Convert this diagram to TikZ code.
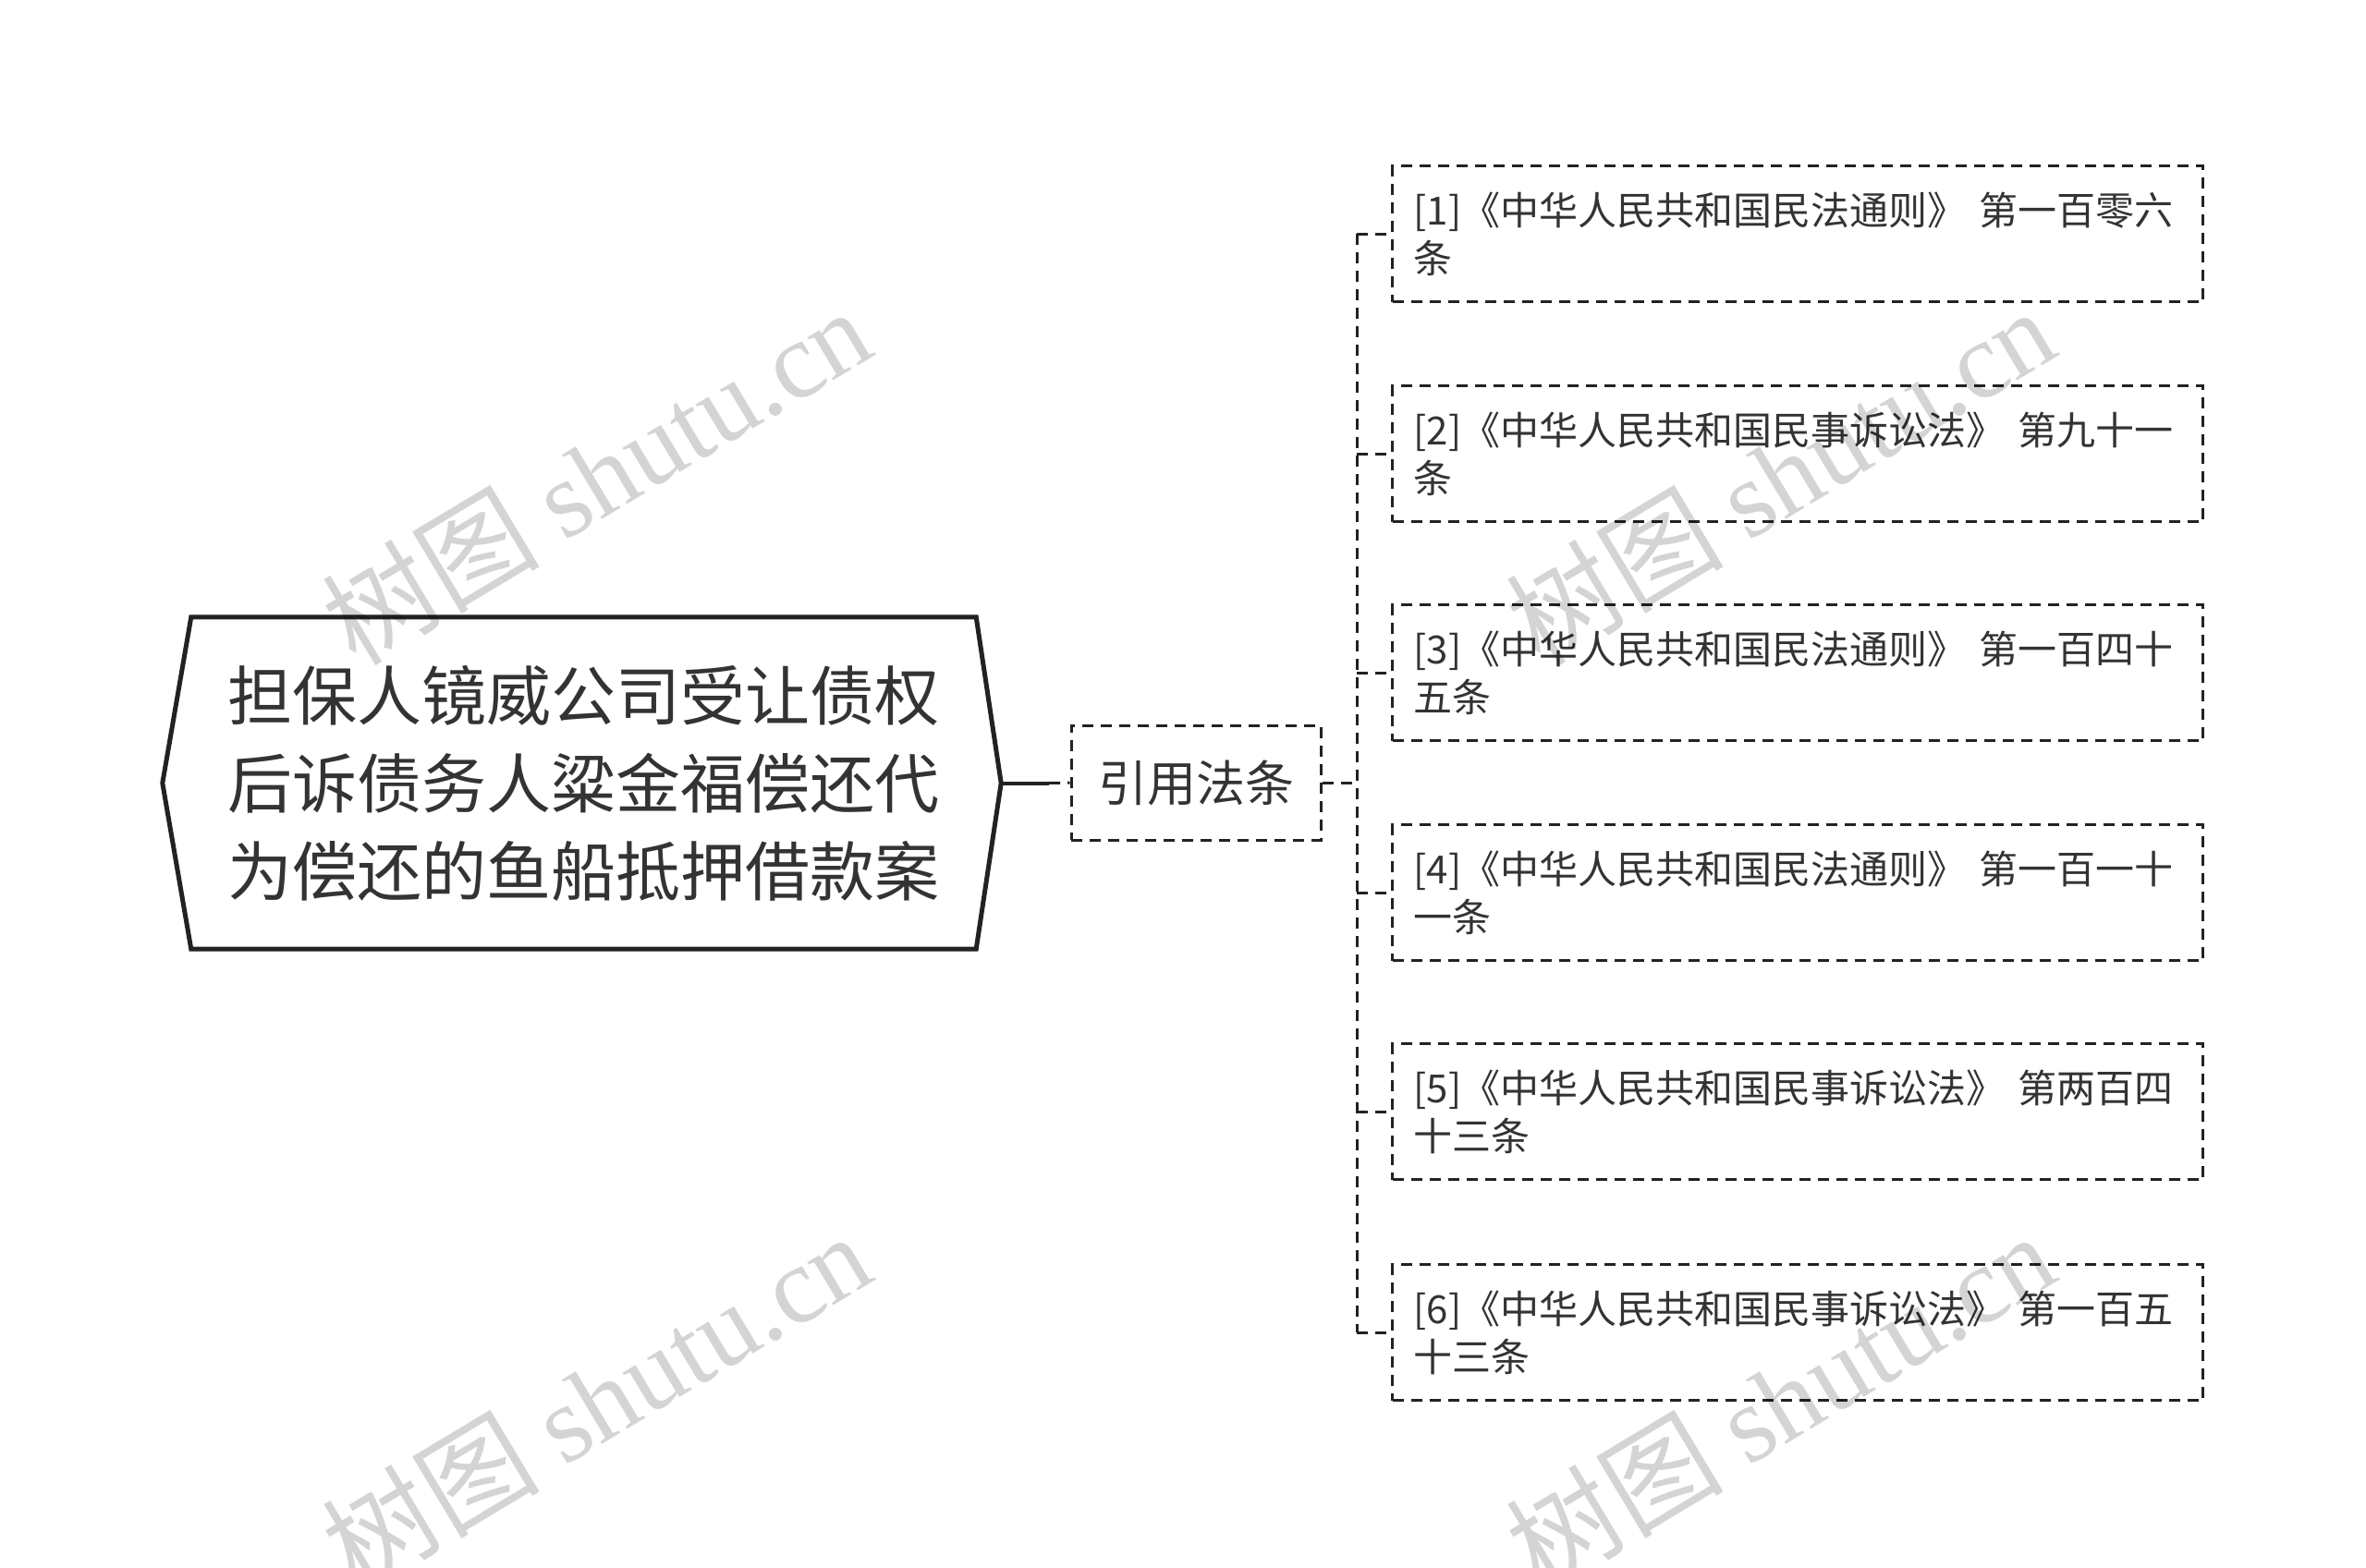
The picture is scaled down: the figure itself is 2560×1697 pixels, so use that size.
\documentclass[tikz,border=0pt]{standalone}
\usepackage{fontspec}
\setmainfont{Noto Sans CJK SC}
\newfontfamily\wmserif{Liberation Serif}
\usetikzlibrary{calc}
\definecolor{txt}{HTML}{333333}
\definecolor{ln}{HTML}{222222}
\begin{document}
\begin{tikzpicture}[x=1pt,y=-1pt,
  dsh/.style={draw=ln, line width=3pt, dash pattern=on 12pt off 8pt},
  lawbox/.style={dsh, rectangle, minimum width=877pt, minimum height=147pt, text width=831pt, inner xsep=23pt, inner ysep=0pt, align=left, anchor=west, font=\fontsize{42}{52}\selectfont, text=txt},
  wm/.style={rotate=31, text=black, opacity=0.17, font=\fontsize{118}{118}\selectfont}
]
\useasboundingbox (0,0) rectangle (2560,1697);

% main topic
\node[rectangle, minimum width=849pt, minimum height=359pt, inner sep=0pt, align=center, text=txt, font=\fontsize{70}{95}\selectfont] (main) at (631.5,847.5) {担保人镜威公司受让债权\\后诉债务人粱金福偿还代\\为偿还的鱼船抵押借款案};
\draw[line width=5pt, draw=ln, line join=miter] (main.north west) -- (main.north east) -- ($(main.east)+(27,0)$) coordinate (mainR) -- (main.south east) -- (main.south west) -- ($(main.west)+(-31,0)$) -- cycle;

% sub topic
\node[dsh, rectangle, minimum width=270pt, minimum height=124pt, inner sep=0pt, text=txt, font=\fontsize{53}{53}\selectfont] (law) at (1294,847) {引用法条};

\draw[line width=4pt, draw=ln] (mainR) -- ++(52,0) coordinate (m1);
\draw[dsh] (m1) -- (law.west);

% children
\node[lawbox] (c1) at (1505,253) {\mbox{[1]《中华人民共和国民法通则》 第一百零六}\\\mbox{条}};
\node[lawbox] (c2) at (1505,491) {\mbox{[2]《中华人民共和国民事诉讼法》 第九十一}\\\mbox{条}};
\node[lawbox] (c3) at (1505,728) {\mbox{[3]《中华人民共和国民法通则》 第一百四十}\\\mbox{五条}};
\node[lawbox] (c4) at (1505,966) {\mbox{[4]《中华人民共和国民法通则》 第一百一十}\\\mbox{一条}};
\node[lawbox] (c5) at (1505,1203) {\mbox{[5]《中华人民共和国民事诉讼法》 第两百四}\\\mbox{十三条}};
\node[lawbox] (c6) at (1505,1442) {\mbox{[6]《中华人民共和国民事诉讼法》 第一百五}\\\mbox{十三条}};

% connectors
\draw[dsh] (law.east) -- (1468,847) coordinate (hub);
\draw[dsh] (hub |- c1.west) -- (hub |- c6.west);
\foreach \c in {c1,c2,c3,c4,c5,c6}{
  \draw[dsh] (hub |- \c.west) -- (\c.west);
}

% watermarks
\node[wm] (w1) at (645,514) {树图 {\wmserif shutu.cn}};
\node[wm] (w2) at (1926,514) {树图 {\wmserif shutu.cn}};
\node[wm] (w3) at (645,1515) {树图 {\wmserif shutu.cn}};
\node[wm] (w4) at (1926,1515) {树图 {\wmserif shutu.cn}};
\end{tikzpicture}
\end{document}
